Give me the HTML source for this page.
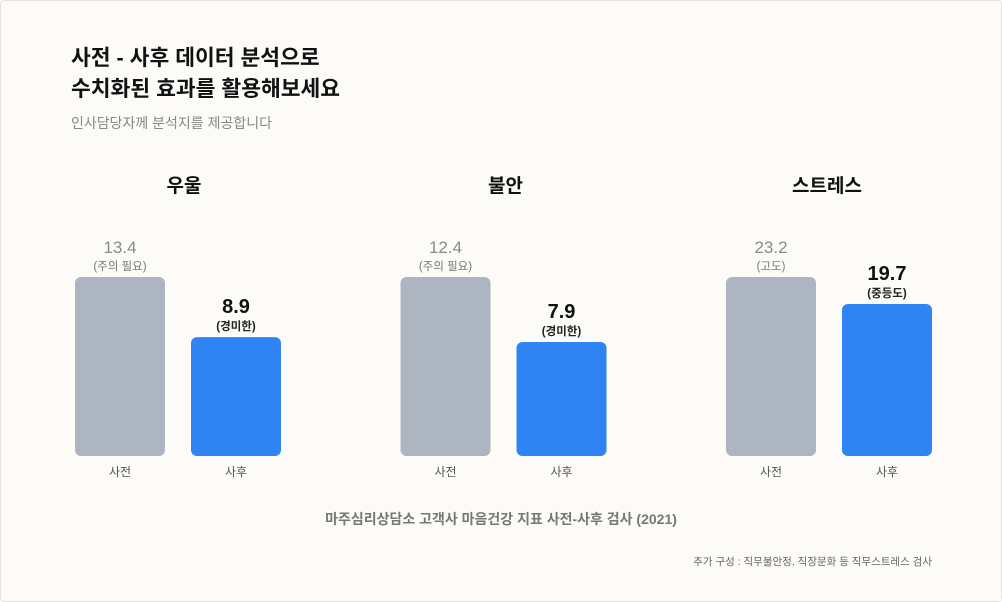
<!DOCTYPE html>
<html><head><meta charset="utf-8"><style>
body{margin:0;background:#fff;}
#card{position:absolute;left:0;top:0;width:1000px;height:600px;border:1px solid #e6e3de;border-radius:4px;background:#fdfbf8;font-family:"Liberation Sans","Noto Sans CJK KR",sans-serif;overflow:hidden}
.t{position:absolute;white-space:nowrap}
</style></head><body>
<div id="card">
<div class="t" style="left:70px;top:42px;font-size:21.5px;font-weight:700;line-height:31px;color:#111">사전 - 사후 데이터 분석으로<br>수치화된 효과를 활용해보세요</div>
<div class="t" style="left:70px;top:112px;font-size:14px;color:#888">인사담당자께 분석지를 제공합니다</div>
<svg id="chart" width="1000" height="600" style="position:absolute;left:0;top:0"></svg>
<div class="t" style="left:0;width:1000px;text-align:center;top:508px;font-size:14px;font-weight:700;color:#777">마주심리상담소 고객사 마음건강 지표 사전-사후 검사 (2021)</div>
<div class="t" style="right:69px;top:553px;font-size:10.5px;color:#666">추가 구성 : 직무불안정, 직장문화 등 직무스트레스 검사</div>
</div>
<script>
const groups=["우울","불안","스트레스"];
const beforeVals=[13.4,12.4,23.2];
const afterVals=[8.9,7.9,19.7];
const beforeLabels=["(주의 필요)","(주의 필요)","(고도)"];
const afterLabels=["(경미한)","(경미한)","(중등도)"];
const phases=["사전","사후"];
const svg=document.getElementById('chart');
const NS='http://www.w3.org/2000/svg';
const base=455,maxH=179,barW=90;
function gx(i){return 74+i*325.5;}
function yScale(v,m){return base-v/m*maxH;}
function mk(tag,attrs,txt){const e=document.createElementNS(NS,tag);for(const k in attrs)e.setAttribute(k,attrs[k]);if(txt!==undefined)e.textContent=txt;svg.appendChild(e);return e;}
groups.forEach((g,i)=>{
 const x0=gx(i),m=Math.max(beforeVals[i],afterVals[i]);
 const t=mk('text',{x:x0+109-i*4,y:191,'text-anchor':'middle','font-size':19,'font-weight':700,fill:'#111'},g);
 
 
 [[beforeVals[i],beforeLabels[i],0,'#adb6c0'],[afterVals[i],afterLabels[i],1,'#2d84f2']].forEach(([v,lab,k,col])=>{
  const x=x0+k*116,y=yScale(v,m);
  const r=mk('rect',{x:x,y:y,width:barW,height:base-y,rx:6,fill:col});
  
  
  const vt=mk('text',{x:x+45,y:y-24,'text-anchor':'middle','font-size':k?20:17,'font-weight':k?700:400,fill:k?'#111':'#8a8a8a'},v.toFixed(1));
  
  
  const st=mk('text',{x:x+45,y:y-7,'text-anchor':'middle','font-size':11.5,'font-weight':k?700:400,fill:k?'#222':'#777'},lab);
  
  
  const ct=mk('text',{x:x+45,y:475,'text-anchor':'middle','font-size':12,fill:'#555'},phases[k]);
  
  
 });
});
</script>
</body></html>
